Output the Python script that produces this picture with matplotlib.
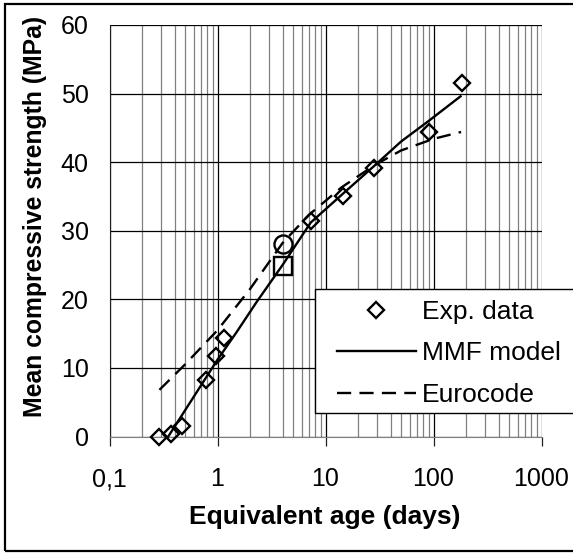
"""
plot.py — mean compressive strength vs equivalent age (log scale).
Experimental data compared to MMF model and Eurocode curve.
"""
import matplotlib
matplotlib.use("Agg")
import matplotlib.pyplot as plt
from matplotlib.patches import Rectangle
from matplotlib.ticker import LogLocator, FixedLocator, FixedFormatter, NullFormatter

plt.rcParams["font.family"] = ["Liberation Sans", "DejaVu Sans"]

# experimental points (diamonds)
EXP_AGE = [0.29, 0.37, 0.47, 0.79, 0.97, 1.15, 7.3, 14.5, 28, 90, 184]
EXP_STR = [0.0, 0.4, 1.5, 8.3, 11.7, 14.4, 31.4, 35.1, 39.1, 44.4, 51.5]

# MMF model curve
MMF_AGE = [0.35, 0.5, 0.7, 1.0, 1.5, 2.3, 4, 7.3, 14.5, 28, 50, 90, 178]
MMF_STR = [0.0, 3.8, 7.4, 11.2, 15.2, 19.6, 25.0, 31.2, 35.4, 39.4, 43.0, 46.0, 49.6]

# Eurocode curve
EC_AGE = [0.29, 0.5, 1, 2, 4, 7, 14, 28, 50, 100, 180]
EC_STR = [6.8, 10.5, 15.5, 21.5, 28.2, 32.3, 36.3, 39.5, 41.7, 43.4, 44.4]

# single markers at 4 days
CIRCLE_PT = (4, 28.1)
SQUARE_PT = (4, 24.9)

X_TICKS = [0.1, 1, 10, 100, 1000]
X_LABELS = ["0,1", "1", "10", "100", "1000"]
Y_TICKS = [0, 10, 20, 30, 40, 50, 60]

W, H = 573, 554


def make_chart():
    fig = plt.figure(figsize=(W / 100, H / 100), dpi=100)
    ax = fig.add_axes([109.5 / W, 1 - 436.5 / H, 432 / W, 411.5 / H])

    ax.set_xscale("log")
    ax.set_xlim(0.1, 1000)
    ax.set_ylim(0, 60)

    # grid: black majors, grey minors on x
    ax.xaxis.set_major_locator(FixedLocator(X_TICKS))
    ax.xaxis.set_major_formatter(FixedFormatter(X_LABELS))
    ax.xaxis.set_minor_locator(LogLocator(base=10, subs=range(2, 10), numticks=20))
    ax.xaxis.set_minor_formatter(NullFormatter())
    ax.set_yticks(Y_TICKS)
    ax.grid(which="major", axis="both", color="black", linewidth=0.9)
    ax.grid(which="minor", axis="x", color="#808080", linewidth=0.9)
    ax.set_axisbelow(True)

    for s in ["top", "right"]:
        ax.spines[s].set_visible(False)
    ax.spines["left"].set_color("#202020")
    ax.spines["bottom"].set_color("#808080")

    ax.tick_params(axis="x", which="major", direction="out", length=6.5,
                   width=0.9, color="#202020", pad=15.5, labelsize=18)
    ax.tick_params(axis="x", which="minor", length=0)
    ax.tick_params(axis="y", which="major", length=0, pad=15, labelsize=18)

    ax.plot(MMF_AGE, MMF_STR, color="black", linewidth=1.7, label="MMF model",
            clip_on=False, zorder=3)
    ax.plot(EC_AGE, EC_STR, color="black", linewidth=1.7, dashes=(6, 3.5),
            label="Eurocode", clip_on=False, zorder=3)
    ax.plot(EXP_AGE, EXP_STR, linestyle="none", marker="D", markersize=8.5,
            markerfacecolor="none", markeredgecolor="black", markeredgewidth=1.7,
            label="Exp. data", clip_on=False, zorder=4)
    ax.plot(*CIRCLE_PT, marker="o", markersize=13, markerfacecolor="none",
            markeredgecolor="black", markeredgewidth=1.7, zorder=4)
    ax.plot(*SQUARE_PT, marker="s", markersize=13.5, markerfacecolor="none",
            markeredgecolor="black", markeredgewidth=1.7, zorder=4)

    ax.set_xlabel("Equivalent age (days)", fontsize=19, fontweight="bold")
    ax.set_ylabel("Mean compressive strength (MPa)", fontsize=17.8,
                  fontweight="bold")
    ax.xaxis.set_label_coords(0.499, (436.5 - 505) / 411.5)
    ax.yaxis.set_label_coords((47 - 109.5) / 432, (436.5 - 216) / 411.5)

    # legend box: white frame running off the right edge
    fig.patches.append(Rectangle((315 / W, 1 - 413 / H), 270 / W, 124 / H,
                                 transform=fig.transFigure, facecolor="white",
                                 edgecolor="black", linewidth=1.0, zorder=5))
    handles, labels = ax.get_legend_handles_labels()
    order = [2, 0, 1]
    leg = fig.legend([handles[i] for i in order], [labels[i] for i in order],
                     loc="upper left", bbox_to_anchor=(336.5 / W, 1 - 300 / H),
                     fontsize=19, frameon=False, borderaxespad=0, borderpad=0,
                     handlelength=3.0, handletextpad=0.25, labelspacing=0.66)
    leg.set_zorder(6)

    # chart border
    fig.patches.append(Rectangle((5 / W, 1 - 551 / H), 1, 547 / H,
                                 transform=fig.transFigure, fill=False,
                                 edgecolor="black", linewidth=1.6, zorder=7))

    fig.savefig("out.png", dpi=100)
    plt.close(fig)


if __name__ == "__main__":
    make_chart()
